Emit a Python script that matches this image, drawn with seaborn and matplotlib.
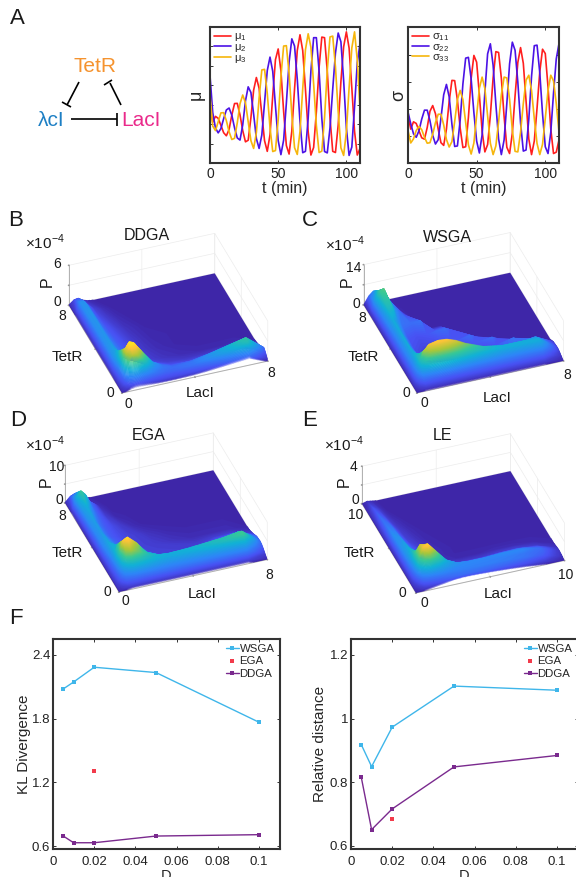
import numpy as np
import pandas as pd
import matplotlib
matplotlib.use("Agg")
import matplotlib.pyplot as plt
import seaborn as sns
from matplotlib.colors import LinearSegmentedColormap
from mpl_toolkits.mplot3d import proj3d

W, H = 576, 877

# panel A, read every 2 min
t_min = list(range(0, 112, 2))
mu1 = [3.0,2.1,2.4,2.3,1.94,1.56,1.4,1.73,2.47,3.06,3.07,2.48,1.67,1.09,1.17,2.33,3.75,4.4,3.85,2.5,1.15,.6,1.45,3.46,5.32,5.87,4.75,2.65,.9,.46,1.64,3.81,5.79,6.6,5.79,3.79,1.6,.41,.8,2.64,4.92,6.48,6.45,4.73,2.32,.6,.54,1.95,4.19,5.98,6.75,5.92,3.87,1.63,.41,.75]
mu2 = [4.5,2.6,1.8,1.55,1.77,2.28,2.73,2.83,2.46,1.81,1.29,1.18,1.96,3.19,3.92,3.63,2.51,1.26,.75,1.44,3.1,4.76,5.45,4.72,2.94,1.16,.43,1.18,3.08,5.19,6.39,6.02,4.31,2.12,.53,.6,2.32,4.73,6.45,6.45,4.73,2.3,.59,.52,1.81,3.8,5.66,6.69,6.24,4.25,1.81,.39,.82,2.89,5.16,6.15]
mu3 = [3.5,1.9,1.67,2.12,2.58,2.59,2.18,1.61,1.21,1.27,2.07,3.05,3.5,3.1,2.13,1.15,.75,1.56,3.34,4.79,4.82,3.58,1.83,.59,.64,2.22,4.44,6.02,6.04,4.61,2.49,.79,.44,1.63,3.83,5.83,6.65,5.96,4.07,1.93,.54,.61,2.33,4.77,6.49,6.53,4.95,2.64,.78,.39,1.61,3.86,5.92,6.75,5.3,2.8]
sig1 = [1.75,1.25,1.52,1.46,1.19,.93,.88,1.31,1.91,2.12,1.82,1.25,.75,.65,1.25,2.28,3.05,3.04,2.32,1.29,.57,.6,1.68,3.12,3.97,3.72,2.52,1.17,.41,.68,1.76,3.14,4.11,4.08,3.13,1.72,.58,.35,1.1,2.48,3.71,4.26,3.68,2.29,.89,.31,.81,2.02,3.37,4.2,4.04,2.81,1.26,.35,.4,.85]
sig2 = [1.88,1.45,1.08,.95,1.19,1.62,1.95,1.95,1.56,1.02,.7,.86,1.65,2.52,2.9,2.44,1.43,.61,.63,1.58,2.92,3.87,3.9,3.1,1.86,.81,.37,1.04,2.61,4.03,4.4,3.61,2.17,.89,.31,.85,2.2,3.66,4.46,4.16,2.99,1.48,.44,.48,1.61,3.2,4.33,4.35,3.33,1.82,.6,.35,1.13,2.57,3.84,4.41]
sig3 = [1.2,.74,.89,1.2,1.35,1.23,.95,.73,.75,1.06,1.49,1.8,1.8,1.41,.87,.59,.79,1.53,2.34,2.68,2.34,1.5,.67,.33,.74,1.75,2.76,3.17,2.75,1.74,.73,.31,.63,1.52,2.52,3.17,3.14,2.35,1.22,.43,.41,1.14,2.2,3.06,3.24,2.68,1.64,.72,.31,.69,1.64,2.68,3.24,3.03,2.2,1.14]

# panels B-E: P as a fraction of the top of the z axis, on these grid nodes
nodes = [0,.25,.5,.75,1,1.5,2,2.5,3,4,5,6,7,8]
p_ddga = [
 [.03,.08,.12,.14,.14,.13,.12,.12,.12,.13,.16,.2,.24,.06],
 [.05,.16,.32,.4,.4,.32,.24,.2,.2,.24,.32,.4,.5,.14],
 [.06,.2,.55,.78,.75,.5,.3,.24,.22,.25,.34,.45,.56,.2],
 [.07,.24,.72,.95,.92,.62,.35,.24,.19,.2,.28,.38,.48,.16],
 [.07,.26,.78,.95,.9,.6,.32,.2,.14,.12,.15,.22,.3,.1],
 [.08,.32,.62,.62,.5,.3,.16,.11,.08,.06,.06,.08,.1,.04],
 [.08,.34,.46,.38,.28,.17,.11,.07,.05,.03,.02,.02,.03,.01],
 [.08,.33,.38,.28,.22,.14,.09,.06,.04,.02,.01,.01,.01,0],
 [.08,.32,.36,.26,.2,.13,.08,.05,.03,.01,.01,0,0,0],
 [.08,.32,.34,.24,.18,.12,.07,.04,.02,.01,0,0,0,0],
 [.08,.32,.34,.22,.16,.1,.05,.03,.01,0,0,0,0,0],
 [.08,.33,.34,.2,.13,.07,.03,.01,0,0,0,0,0,0],
 [.08,.33,.33,.18,.1,.04,.01,0,0,0,0,0,0,0],
 [.03,.12,.14,.07,.03,0,0,0,0,0,0,0,0,0],
]
p_wsga = [
 [.02,.05,.08,.08,.08,.08,.08,.08,.08,.08,.08,.08,.08,.02],
 [.03,.12,.2,.2,.2,.2,.2,.2,.2,.2,.2,.2,.2,.05],
 [.05,.2,.35,.38,.4,.42,.42,.4,.38,.35,.32,.32,.34,.08],
 [.05,.25,.45,.55,.65,.7,.68,.62,.55,.47,.42,.42,.42,.1],
 [.05,.27,.5,.72,.85,.9,.88,.8,.68,.5,.42,.42,.4,.1],
 [.05,.27,.47,.52,.55,.6,.55,.45,.3,.22,.2,.22,.3,.08],
 [.05,.28,.42,.34,.22,.14,.11,.1,.1,.11,.15,.24,0,0],
 [.05,.28,.42,.28,.15,.1,.09,.1,.12,.16,.22,0,0,0],
 [.05,.28,.42,.26,.13,.1,.1,.12,.14,.22,0,0,0,0],
 [.05,.28,.42,.28,.16,.14,.16,.2,.22,0,0,0,0,0],
 [.05,.3,.42,.34,.24,.22,.24,0,0,0,0,0,0,0],
 [.06,.32,.5,.52,.32,.15,0,0,0,0,0,0,0,0],
 [.06,.38,.58,.62,.32,.02,0,0,0,0,0,0,0,0],
 [.03,.2,.3,.25,.08,0,0,0,0,0,0,0,0,0],
]
p_ega = [
 [.02,.05,.08,.1,.1,.1,.1,.1,.1,.1,.1,.1,.1,.03],
 [.05,.12,.2,.22,.24,.24,.24,.24,.24,.25,.26,.27,.28,.08],
 [.06,.18,.3,.35,.38,.38,.36,.34,.33,.34,.36,.38,.42,.14],
 [.06,.2,.38,.48,.52,.5,.45,.42,.4,.42,.45,.5,.58,.18],
 [.06,.22,.45,.65,.72,.62,.5,.44,.42,.44,.48,.52,.58,.2],
 [.06,.24,.5,.85,.93,.72,.42,.27,.2,.18,.2,.28,.42,.18],
 [.06,.25,.45,.65,.7,.45,.22,.13,.1,.09,.1,.16,.22,.1],
 [.06,.28,.42,.44,.38,.22,.14,.1,.09,.08,.06,.08,.08,.04],
 [.06,.3,.4,.32,.24,.16,.11,.09,.08,.05,.03,.03,.03,.01],
 [.06,.3,.36,.25,.18,.13,.1,.08,.05,.02,.01,.01,.01,0],
 [.06,.32,.37,.24,.18,.12,.07,.03,.01,0,0,0,0,0],
 [.07,.35,.42,.3,.2,.08,.02,.01,0,0,0,0,0,0],
 [.08,.42,.58,.45,.22,.04,0,0,0,0,0,0,0,0],
 [.03,.15,.2,.12,.03,0,0,0,0,0,0,0,0,0],
]
p_le = [
 [.01,.04,.08,.1,.12,.16,.2,.22,.22,.2,.17,.13,.08,.01],
 [.03,.1,.2,.24,.26,.28,.27,.27,.27,.27,.26,.24,.17,.04],
 [.05,.16,.33,.42,.45,.4,.34,.3,.29,.28,.27,.25,.2,.05],
 [.06,.22,.48,.62,.68,.55,.4,.32,.3,.3,.31,.3,.22,.06],
 [.06,.26,.58,.85,.92,.65,.38,.25,.2,.2,.24,.25,.18,.05],
 [.06,.3,.58,.78,.75,.42,.18,.09,.07,.07,.09,.1,.07,.02],
 [.06,.32,.48,.45,.35,.14,.06,.03,.02,.02,.03,.03,.02,.01],
 [.06,.33,.42,.3,.18,.08,.04,.02,.01,.01,.01,.01,.01,0],
 [.05,.33,.38,.25,.16,.08,.04,.02,.01,0,0,0,0,0],
 [.05,.33,.3,.18,.1,.05,.02,.01,0,0,0,0,0,0],
 [.05,.26,.24,.13,.07,.03,.01,0,0,0,0,0,0,0],
 [.04,.22,.16,.08,.04,.01,0,0,0,0,0,0,0,0],
 [.03,.15,.1,.04,.01,0,0,0,0,0,0,0,0,0],
 [.01,.05,.03,.01,0,0,0,0,0,0,0,0,0,0],
]

# panel F
d_vals = [.005,.01,.02,.05,.1]
kl_wsga = [2.08,2.145,2.284,2.234,1.766]
kl_ddga = [.694,.631,.631,.694,.707]
kl_ega = [1.307]
rd_wsga = [.918,.849,.973,1.102,1.089]
rd_ddga = [.815,.651,.716,.848,.884]
rd_ega = [.683]
d_ega = [.02]

RED, BLUE, YEL = "#ff1f1f", "#4b12e6", "#f6b60c"
SKY, PURP, DOT = "#3fb6ea", "#7a2a8e", "#f23b4b"
SPINE = "#333333"

parula = LinearSegmentedColormap.from_list("parula", [
    (.2422,.1504,.6603),(.2810,.3228,.9579),(.1786,.5289,.9682),(.0689,.6948,.8394),
    (.2161,.7843,.5923),(.6720,.7793,.2227),(.9970,.7659,.2199),(.9769,.9839,.0805)])

sns.set_theme(style="ticks")
plt.rcParams["font.family"] = ["Liberation Sans", "DejaVu Sans"]
plt.rcParams["mathtext.fontset"] = "custom"
plt.rcParams["mathtext.rm"] = "Liberation Sans"

fig = plt.figure(figsize=(W / 100, H / 100), dpi=100)

def ax_px(l, r, top, bot, **kw):
    return fig.add_axes([l / W, 1 - bot / H, (r - l) / W, (bot - top) / H], **kw)

def style2d(ax):
    for s in ax.spines.values():
        s.set_linewidth(1.5)
        s.set_color(SPINE)
    ax.tick_params(direction="in", top=True, right=True, length=2.5, width=.7, color=SPINE, labelsize=10, pad=3, labelcolor="#222222")

def time_panel(box, series, names, ylab, yt, ylim, lab_off):
    ax = ax_px(*box)
    df = pd.DataFrame({"t": t_min * 3, "v": sum(series, []), "s": sum([[n] * len(t_min) for n in names], [])})
    sns.lineplot(data=df, x="t", y="v", hue="s", palette=[RED, BLUE, YEL], linewidth=1.2, ax=ax, errorbar=None)
    ax.set_xlim(0, 110)
    ax.set_ylim(*ylim)
    ax.set_xticks([0, 50, 100])
    ax.set_yticks(yt)
    ax.set_yticklabels([])
    style2d(ax)
    ax.set_xlabel("t (min)", fontsize=11.5, labelpad=0)
    ax.set_ylabel(ylab, fontsize=13)
    ax.yaxis.set_label_coords(lab_off / 150, .5)
    ax.legend(loc="upper left", frameon=False, fontsize=8, handlelength=1.5, labelspacing=-.12,
              borderpad=.1, handletextpad=.3, borderaxespad=.3, title=None)
    return ax

time_panel((210, 360, 27, 163), [mu1, mu2, mu3], ["$\\mathrm{μ_1}$", "$\\mathrm{μ_2}$", "$\\mathrm{μ_3}$"], "μ", [1, 2, 3, 4, 5, 6], (0, 7), -5)
time_panel((408, 559, 27, 163), [sig1, sig2, sig3], ["$\\mathrm{σ_{11}}$", "$\\mathrm{σ_{22}}$", "$\\mathrm{σ_{33}}$"], "σ", [0, 1, 2, 3, 4], (0, 5.02), -1)

def fit_box(ax, lim, front, right):
    # move and scale the square 3d axes so the floor edge lands on the wanted pixels
    for _ in range(3):
        ax.apply_aspect()
        xs, ys, _z = proj3d.proj_transform(np.array([0, lim]), np.array([0, 0]), np.array([0, 0]), ax.get_proj())
        pts = ax.transData.transform(np.c_[xs, ys])
        pos = ax.get_position()
        want = np.array([[front[0], H - front[1]], [right[0], H - right[1]]], float)
        k = np.hypot(*(want[1] - want[0])) / np.hypot(*(pts[1] - pts[0]))
        side_w, side_h = pos.width * k, pos.height * k
        cx = pos.x0 + pos.width / 2
        cy = pos.y0 + pos.height / 2
        # scale about the centre, then shift
        fx = (pts[0][0] / W - cx) * k + cx
        fy = (pts[0][1] / H - cy) * k + cy
        cx += want[0][0] / W - fx
        cy += want[0][1] / H - fy
        ax.set_position([cx - side_w / 2, cy - side_h / 2, side_w, side_h])

N_BANDS = 90
BAND_W = 8

def surf_panel(rows, lim, zmax, zh, front, right):
    ax = fig.add_axes([.1, .1, .4, .4 * W / H], projection="3d", computed_zorder=False)
    ax.patch.set_alpha(0)
    ax.set_proj_type("ortho")
    ax.view_init(elev=37, azim=-110)
    ax.set_box_aspect((155, 155, zh))
    scale = lim / 8
    X, Y = np.meshgrid(np.array(nodes) * scale, np.array(nodes) * scale)
    Z = np.array(rows) * zmax
    # seen from above the higher part of a height field is always the nearer one,
    # so thin overlapping slabs painted from low to high hide each other correctly
    lev = np.linspace(0, zmax, N_BANDS + 1)
    for i in range(N_BANDS):
        lo = lev[i] - (1e-6 if i == 0 else 0)
        hi = lev[min(i + BAND_W, N_BANDS)] + 1e-6
        ax.contourf(X, Y, Z, levels=[lo, hi], colors=[parula(lev[i] / zmax)], offset=lev[i],
                    zdir="z", zorder=5 + i, antialiased=True)
    ax.set_xlim(0, lim)
    ax.set_ylim(0, lim)
    ax.set_zlim(0, zmax)
    ax.set_xticks([0, lim / 2, lim])
    ax.set_yticks([0, lim / 2, lim])
    ax.set_zticks([0, zmax / 2, zmax])
    ax.set_xticklabels([])
    ax.set_yticklabels([])
    ax.set_zticklabels([])
    ax.tick_params(colors="#999999")
    for a in (ax.xaxis, ax.yaxis, ax.zaxis):
        a.set_pane_color((1, 1, 1, 0))
        a.pane.set_edgecolor("#ececec")
        a.line.set_color("#b0b0b0")
        a.line.set_linewidth(.7)
        a._axinfo["grid"].update(color="#ececec", linewidth=.5)
        a._axinfo["tick"].update(inward_factor=.03, outward_factor=0)
    fit_box(ax, lim, front, right)
    return ax

surf_panel(p_ddga, 8, 6, 50, (122, 393), (268, 362))
surf_panel(p_wsga, 8, 14, 50, (417, 393), (564, 363))
surf_panel(p_ega, 8, 10, 46, (119, 592), (268, 563))
surf_panel(p_le, 10, 4, 46, (416, 593), (565, 563))

def f_panel(left, wsga, ddga, ega, ylab, yt, ytl, ylim, lab_off):
    ax = ax_px(left, left + 226.6, 639, 849)
    sns.lineplot(x=d_vals, y=wsga, color=SKY, marker="s", markersize=3, markeredgewidth=0, linewidth=1, ax=ax, label="WSGA")
    sns.scatterplot(x=d_ega, y=ega, color=DOT, marker="s", s=7, linewidth=0, ax=ax, label="EGA")
    sns.lineplot(x=d_vals, y=ddga, color=PURP, marker="s", markersize=3, markeredgewidth=0, linewidth=1, ax=ax, label="DDGA")
    ax.set_xlim(0, .11)
    ax.set_ylim(*ylim)
    ax.set_xticks([0, .02, .04, .06, .08, .1])
    ax.set_xticklabels(["0", "0.02", "0.04", "0.06", "0.08", "0.1"])
    ax.set_yticks(yt)
    ax.set_yticklabels(ytl)
    style2d(ax)
    ax.tick_params(labelsize=9.5, pad=5)
    ax.tick_params(axis="y", pad=2)
    ax.set_xlabel("D", fontsize=10.5)
    ax.xaxis.set_label_coords(.5, -20 / 210)
    ax.set_ylabel(ylab, fontsize=11)
    ax.yaxis.set_label_coords(lab_off / 226.6, .5)
    ax.legend(loc="upper right", frameon=False, fontsize=8.2, handlelength=1.15, labelspacing=.2,
              borderpad=0, handletextpad=.05, borderaxespad=.45)
    return ax

f_panel(53, kl_wsga, kl_ddga, kl_ega, "KL Divergence", [.6, 1.2, 1.8, 2.4], ["0.6", "1.2", "1.8", "2.4"], (.572, 2.55), -22)
f_panel(351, rd_wsga, rd_ddga, rd_ega, "Relative distance", [.6, .8, 1, 1.2], ["0.6", "0.8", "1", "1.2"], (.59, 1.25), -24)

# overlay in image pixels for the schematic and all the free labels
ov = fig.add_axes([0, 0, 1, 1], zorder=20)
ov.set_xlim(0, W)
ov.set_ylim(H, 0)
ov.axis("off")

def put(x, y, s, size=11, **kw):
    kw.setdefault("color", "#1a1a1a")
    ov.text(x, y, s, fontsize=size, ha="center", va="center", **kw)

for x, y, s in [(17, 19, "A"), (16, 220, "B"), (310, 221, "C"), (18, 420, "D"), (310, 420, "E"), (16, 618, "F")]:
    put(x, y, s, 16)

put(95, 67, "TetR", 15, color="#f5932f")
put(51, 120, "λcI", 15, color="#1d7fc4")
put(141, 120, "LacI", 15, color="#ea2a8b")
for xs, ys in [((79, 67), (82, 105)), ((62, 71), (102, 107)), ((121, 110), (105, 83)),
               ((104, 112), (85, 80)), ((71, 117), (119, 119)), ((117, 117), (113, 126))]:
    ov.plot(xs, ys, color="black", lw=1.2, solid_capstyle="butt")

panels = [
    dict(title=(147, 235, "DDGA"), tenx=(45, 242), z=[(57, 264, "6"), (57, 302, "0")], P=(47, 282),
         y=[(62, 316, "8"), (110, 393, "0")], tet=(67, 357), x=[(128, 404, "0"), (271, 373, "8")], lac=(200, 393)),
    dict(title=(447, 238, "WSGA"), tenx=(345, 244), z=[(354, 268, "14"), (356, 304, "0")], P=(347, 282),
         y=[(362, 318, "8"), (406, 393, "0")], tet=(363, 357), x=[(424, 403, "0"), (567, 375, "8")], lac=(497, 398)),
    dict(title=(149, 435, "EGA"), tenx=(45, 444), z=[(57, 467, "10"), (59, 500, "0")], P=(46, 482),
         y=[(62, 516, "8"), (107, 592, "0")], tet=(67, 553), x=[(125, 601, "0"), (269, 575, "8")], lac=(202, 594)),
    dict(title=(443, 436, "LE"), tenx=(344, 444), z=[(354, 467, "4"), (355, 500, "0")], P=(344, 482),
         y=[(356, 515, "10"), (402, 593, "0")], tet=(359, 553), x=[(424, 603, "0"), (566, 575, "10")], lac=(498, 594)),
]
for p in panels:
    put(p["title"][0], p["title"][1], p["title"][2], 11.5)
    put(p["tenx"][0], p["tenx"][1], "×10$^{-4}$", 11)
    put(p["P"][0], p["P"][1], "P", 11.5, rotation=90)
    put(p["tet"][0], p["tet"][1], "TetR", 11)
    put(p["lac"][0], p["lac"][1], "LacI", 11)
    for x, y, s in p["z"] + p["y"] + p["x"]:
        put(x, y, s, 10)

fig.savefig("out.png", dpi=100)
